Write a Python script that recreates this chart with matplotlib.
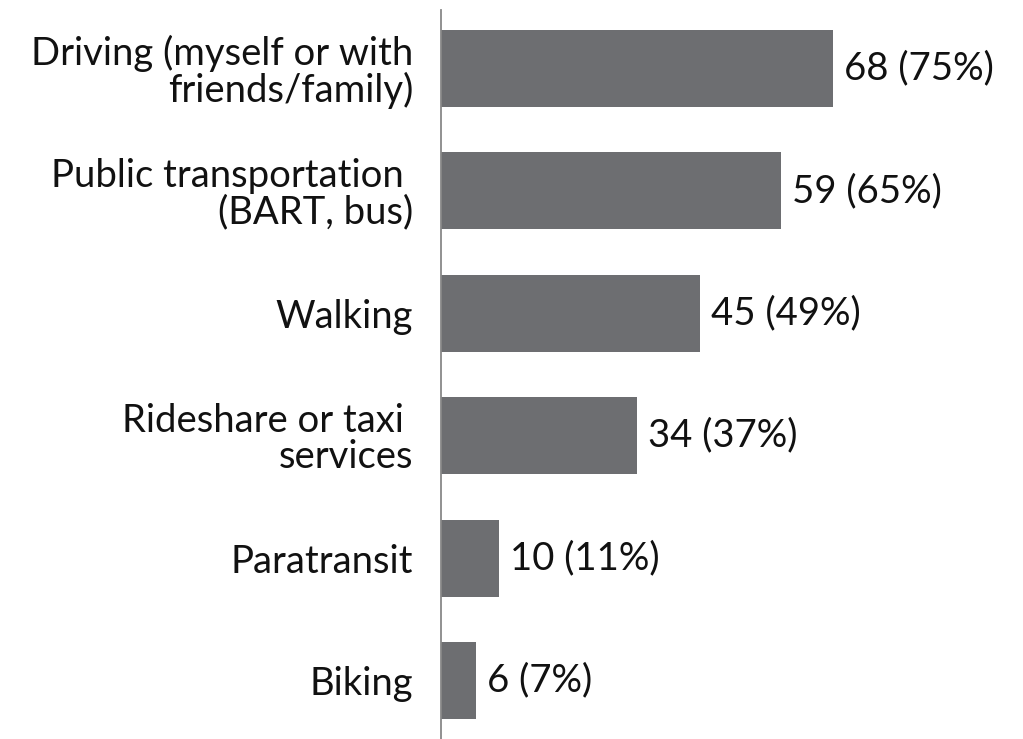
import matplotlib
matplotlib.use("Agg")
import matplotlib.pyplot as plt

categories = ["Driving (myself or with\nfriends/family)",
              "Public transportation \n(BART, bus)",
              "Walking",
              "Rideshare or taxi \nservices",
              "Paratransit",
              "Biking"]
counts = [68, 59, 45, 34, 10, 6]
percents = [75, 65, 49, 37, 11, 7]

plt.rcParams['font.family'] = ['Lato', 'DejaVu Sans']

fig = plt.figure(figsize=(10.23, 7.39), dpi=100)
ax = fig.add_axes([441 / 1023, 0, 582 / 1023, 729 / 739])

ypos = list(range(len(categories)))
ax.barh(ypos, counts, height=0.63, color='#6d6e71')

for y, c, p in zip(ypos, counts, percents):
    ax.text(c + 1.9, y, f"{c} ({p}%)", va='center', ha='left', fontsize=27.5, color='#111111')

ax.set_yticks(ypos)
ax.set_yticklabels(categories, fontsize=27.5, color='#111111', linespacing=1.0)
ax.tick_params(axis='y', length=0, pad=20)
ax.set_xticks([])
ax.set_xlim(0, 101)
ax.set_ylim(5.478, -0.478)

for s in ['top', 'right', 'bottom']:
    ax.spines[s].set_visible(False)
ax.spines['left'].set_color('#888888')
ax.spines['left'].set_linewidth(1.3)

fig.savefig("out.png", dpi=100)
